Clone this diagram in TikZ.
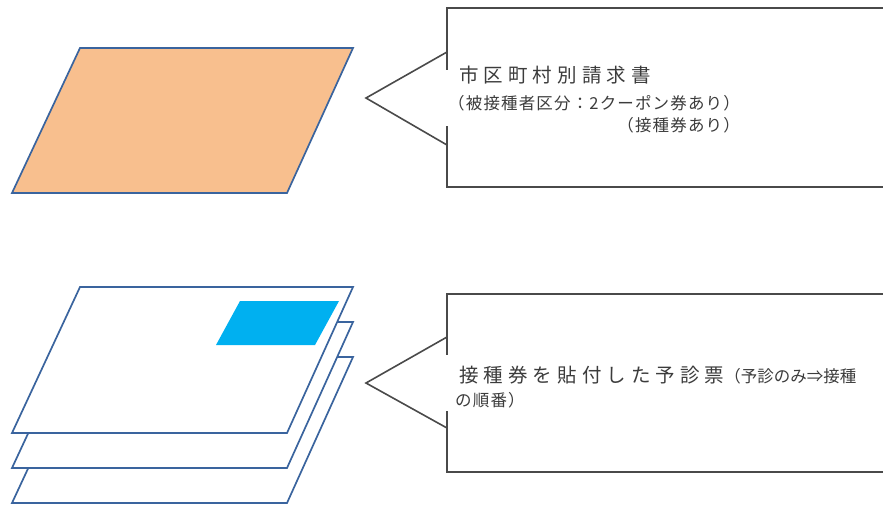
\documentclass[tikz,border=0pt]{standalone}
\usepackage{fontspec}
\newfontfamily\jp[LetterSpace=7]{Noto Sans CJK JP}
\newfontfamily\jpplain{Noto Sans CJK JP}
\newfontfamily\jpsp[LetterSpace=26]{Noto Sans CJK JP}
\definecolor{sheetblue}{HTML}{3A649E}
\definecolor{orangefill}{HTML}{F8BF8E}
\definecolor{stampblue}{HTML}{00B0F0}
\definecolor{callgray}{HTML}{4A4A4A}
\definecolor{txtgray}{HTML}{3C3C3C}
\tikzset{
  sheet/.style={draw=sheetblue, line width=1.7pt, line join=miter},
  callout/.style={draw=callgray, line width=1.6pt},
  txt/.style={inner sep=0pt, anchor=west, text=txtgray},
  bigtxt/.style={txt, font=\jpsp\fontsize{19.5pt}{22pt}\selectfont},
  smalltxt/.style={txt, font=\jp\fontsize{16.5pt}{19pt}\selectfont},
}
\begin{document}
\begin{tikzpicture}[x=1pt,y=-1pt]
\useasboundingbox (0,0) rectangle (883,504);
\fill[white] (0,0) rectangle (883,504);
% top parallelogram
\draw[sheet, fill=orangefill] (80,48) -- (353,48) -- (287,193) -- (12,193) -- cycle;
% stack of sheets
\foreach \dy in {70,35,0}{
  \draw[sheet, fill=white] (80,287+\dy) -- (353,287+\dy) -- (287,433+\dy) -- (12,433+\dy) -- cycle;
}
\fill[stampblue] (240,301) -- (339,301) -- (315,345) -- (216,345) -- cycle;
% top callout
\draw[callout] (884,8) -- (447,8) -- (447,70);
\draw[callout] (447,52) -- (366,98) -- (447,145);
\draw[callout] (447,126) -- (447,187) -- (884,187);
% bottom callout
\draw[callout] (884,294) -- (447,294) -- (447,355);
\draw[callout] (447,337) -- (366,383) -- (447,428);
\draw[callout] (447,411) -- (447,472) -- (884,472);
% texts
\node[bigtxt] (t1) at (459,75) {市区町村別請求書};
\node[smalltxt] (t2) at (448,103) {（被接種者区分：2クーポン券あり）};
\node[smalltxt, anchor=east] (t3) at (t2.east |- 0,125) {（接種券あり）};
\node[txt] (b1) at (459,375) {{\jpsp\fontsize{19.5pt}{22pt}\selectfont 接種券を貼付した予診票}{\jpplain\fontsize{16.5pt}{19pt}\selectfont （予診のみ⇒接種}};
\node[smalltxt] (b2) at (455,400) {の順番）};
\end{tikzpicture}
\end{document}
